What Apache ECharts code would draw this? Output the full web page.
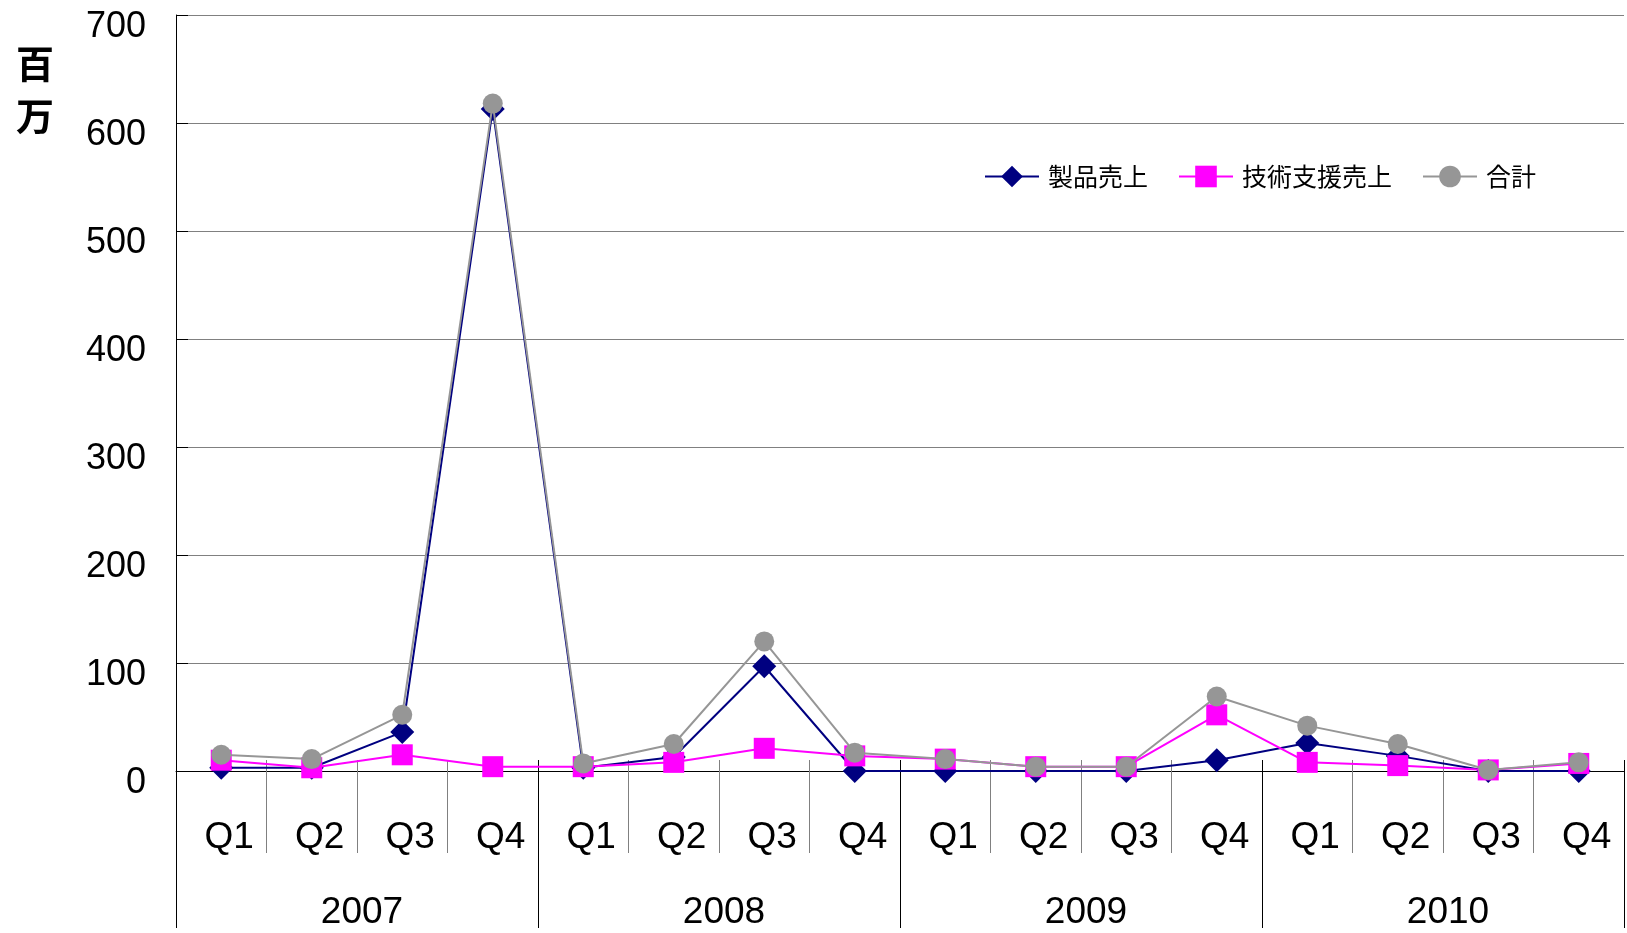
<!DOCTYPE html>
<html>
<head>
<meta charset="utf-8">
<script src="https://cdn.jsdelivr.net/npm/echarts@6/dist/echarts.min.js"></script>
<style>
html,body{margin:0;padding:0;background:#fff;}
#main{width:1627px;height:933px;}
</style>
</head>
<body>
<div id="main"></div>
<script>
const quarters = ['Q1','Q2','Q3','Q4','Q1','Q2','Q3','Q4','Q1','Q2','Q3','Q4','Q1','Q2','Q3','Q4'];
const years = ['2007','2008','2009','2010'];
const yTicks = [0,100,200,300,400,500,600,700];
const seriesNames = ['製品売上','技術支援売上','合計'];
const productSales = [3, 3, 36, 613, 3, 13, 97, 0, 0, 0, 0, 10, 26, 14, 0, 0];
const supportSales = [10, 3, 15, 4, 4, 8, 21, 14, 11, 4, 4, 52, 8, 5, 1, 7];
const totalSales = [15, 11, 52, 618, 7, 25, 120, 17, 11, 4, 4, 69, 42, 25, 1, 8];

const chart = echarts.init(document.getElementById('main'));
const latin = 'Liberation Sans, Arial, sans-serif';
const cjk = '"Noto Sans CJK JP", sans-serif';

function baseX(data) {
  return {
    type: 'category', data: data, position: 'bottom', gridIndex: 0,
    boundaryGap: true,
    axisLine: { show: false, onZero: false },
    axisTick: { show: false },
    axisLabel: { show: false },
    splitLine: { show: false }
  };
}

const xQuarter = baseX(quarters);
xQuarter.axisLine = { show: true, onZero: false, lineStyle: { color: '#000', width: 1 } };
xQuarter.axisTick = { show: true, interval: 0, length: 82, lineStyle: { color: '#808080', width: 1 } };
xQuarter.axisLabel = { show: true, interval: 0, margin: 49, fontSize: 37, color: '#000', fontFamily: latin, lineHeight: 36, padding: [0, 0, 0, 16] };

const xQuarterIn = baseX(quarters);
xQuarterIn.axisTick = { show: true, interval: 0, inside: true, length: 11, lineStyle: { color: '#808080', width: 1 } };

const xYear = baseX(years);
xYear.axisTick = { show: true, interval: 0, length: 157, lineStyle: { color: '#000', width: 1 } };
xYear.axisLabel = { show: true, interval: 0, margin: 124, fontSize: 37, color: '#000', fontFamily: latin, lineHeight: 36, padding: [0, 0, 0, 10] };

const xYearIn = baseX(years);
xYearIn.axisTick = { show: true, interval: 0, inside: true, length: 11, lineStyle: { color: '#000', width: 1 } };

const symbols = ['diamond', 'rect', 'circle'];
const sizes = [24, 21, 20];
const colors = ['#000080', '#FF00FF', '#969696'];
const values = [productSales, supportSales, totalSales];

chart.setOption({
  animation: false,
  backgroundColor: '#fff',
  grid: { left: 176, right: 3, top: 15, bottom: 162, containLabel: false, outerBoundsMode: 'none' },
  legend: {
    data: seriesNames,
    left: 984, top: 164, padding: 0,
    itemWidth: 54, itemHeight: 27, itemGap: 30,
    textStyle: { fontSize: 25, color: '#000', fontFamily: cjk, padding: [0, 0, 0, 4] }
  },
  graphic: [{
    type: 'text', left: 16, top: 38,
    style: { text: '百\n万', fontSize: 38, fontWeight: 'bold', lineHeight: 52, fill: '#000', fontFamily: cjk }
  }],
  xAxis: [xQuarter, xQuarterIn, xYear, xYearIn],
  yAxis: {
    type: 'value', min: yTicks[0], max: yTicks[yTicks.length - 1], interval: 100,
    axisLine: { show: true, lineStyle: { color: '#000', width: 1 } },
    axisTick: { show: true, inside: true, length: 12, lineStyle: { color: '#000', width: 1 } },
    axisLabel: { margin: 30, fontSize: 36, color: '#000', fontFamily: latin, lineHeight: 24, verticalAlign: 'top' },
    splitLine: { show: true, lineStyle: { color: '#808080', width: 1 } }
  },
  series: seriesNames.map((n, i) => ({
    name: n, type: 'line', xAxisIndex: 0, data: values[i],
    symbol: symbols[i], symbolSize: sizes[i], showAllSymbol: true,
    lineStyle: { color: colors[i], width: 2 },
    itemStyle: { color: colors[i] },
    z: 3 + i
  }))
});
</script>
</body>
</html>
